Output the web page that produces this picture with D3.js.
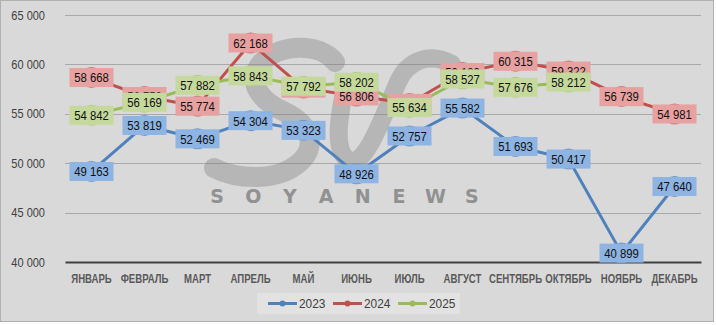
<!DOCTYPE html>
<html><head><meta charset="utf-8">
<script src="https://cdn.jsdelivr.net/npm/d3@7"></script>
<style>
html,body{margin:0;padding:0;background:#fff;}
svg{display:block;}
</style>
</head><body>
<svg id="chart" width="716" height="325"></svg>
<script>
const months = ["ЯНВАРЬ","ФЕВРАЛЬ","МАРТ","АПРЕЛЬ","МАЙ","ИЮНЬ","ИЮЛЬ","АВГУСТ","СЕНТЯБРЬ","ОКТЯБРЬ","НОЯБРЬ","ДЕКАБРЬ"];
const values2023 = [49163,53819,52469,54304,53323,48926,52757,55582,51693,50417,40899,47640];
const values2024 = [58668,56750,55774,62168,57600,56806,56050,59180,60315,59322,56739,54981];
const values2025 = [54842,56169,57882,58843,57792,58202,55634,58527,57676,58212];
const yTicks = [40000,45000,50000,55000,60000,65000];
const seriesNames = ["2023","2024","2025"];

const series = [
  {name: seriesNames[0], values: values2023, line:"#4f81bd", marker:"#6b97cf", box:"#8db4e2"},
  {name: seriesNames[1], values: values2024, line:"#c0504d", marker:"#d77372", box:"#e6a1a0"},
  {name: seriesNames[2], values: values2025, line:"#9bbb59", marker:"#b2cc7a", box:"#c5d99c"}
];

const FONT = "'Liberation Sans',Arial,sans-serif";
const SX = 0.84;
const svg = d3.select("#chart");
const W = 716, H = 325;
const m = {left:65, right:15, top:15, bottom:63};

svg.append("rect").attr("x",0.5).attr("y",0.5).attr("width",W-3).attr("height",H-4)
  .attr("fill","#d9d9d9").attr("stroke","#b0b0b0");

const x = d3.scaleBand().domain(months).range([m.left, W - m.right]).paddingInner(0).paddingOuter(0);
const y = d3.scaleLinear().domain([40000,65000]).range([H - m.bottom, m.top]);

// gridlines
svg.append("g").selectAll("line").data(yTicks.filter(t=>t>40000)).join("line")
  .attr("x1", m.left).attr("x2", W - m.right)
  .attr("y1", d=>Math.round(y(d))+0.5).attr("y2", d=>Math.round(y(d))+0.5)
  .attr("stroke","#a9a9a9").attr("stroke-width",1);

// watermark
const wm = svg.append("g").attr("opacity",0.33);
wm.append("path")
  .attr("d","M335,62 C320,42 280,44 262,62 C244,82 262,102 285,112 C310,124 318,146 300,162 C278,182 238,180 214,168")
  .attr("fill","none").attr("stroke","#707070").attr("stroke-width",20).attr("stroke-linecap","round");
wm.append("path")
  .attr("d","M345,88 C338,120 334,150 348,160 C364,170 382,120 398,82 C408,60 430,52 452,64")
  .attr("fill","none").attr("stroke","#707070").attr("stroke-width",18).attr("stroke-linecap","round");
const wmLetters = "SOYANEWS".split("");
svg.append("g").selectAll("text").data(wmLetters).join("text")
  .attr("x",(d,i)=>217 + i*36.4).attr("y",203)
  .attr("text-anchor","middle")
  .attr("font-family","'DejaVu Sans',sans-serif").attr("font-weight","bold").attr("font-size",19)
  .attr("fill","#858585").attr("opacity",0.85)
  .text(d=>d);

const fmt = d=>d3.format(",")(d).replace(/,/g," ");

// y axis labels
const yAxis = d3.axisLeft(y).tickValues(yTicks).tickSize(0).tickPadding(0).tickFormat(fmt);
const ya = svg.append("g").attr("transform",`translate(${m.left-20},0)`).call(yAxis);
ya.select(".domain").remove();
ya.selectAll("text").attr("font-family",FONT).attr("font-size",12.5).attr("fill","#404040")
  .attr("dy","0.32em").attr("transform","scale(0.88,1)");

// x axis
const xAxis = d3.axisBottom(x).tickSize(0).tickPadding(12);
const xa = svg.append("g").attr("transform",`translate(0,${y(40000)})`).call(xAxis);
xa.select(".domain").attr("stroke","#404040").attr("stroke-width",2.2);
xa.selectAll("text").attr("font-family",FONT).attr("font-size",12).attr("font-weight","bold")
  .attr("fill","#595959").attr("transform","scale(0.8,1)");

const cx = i => x(months[i]) + x.bandwidth()/2;
const line = d3.line().x((d,i)=>cx(i)).y(d=>y(d));

// lines
series.forEach(s=>{
  svg.append("path").datum(s.values).attr("d",line)
    .attr("fill","none").attr("stroke",s.line).attr("stroke-width",3).attr("stroke-linejoin","round");
});
// markers
series.forEach(s=>{
  svg.append("g").selectAll("circle").data(s.values).join("circle")
    .attr("cx",(d,i)=>cx(i)).attr("cy",d=>y(d)).attr("r",10.5)
    .attr("fill",s.marker);
});
// labels
series.forEach(s=>{
  const g = svg.append("g").selectAll("g").data(s.values).join("g")
    .attr("transform",(d,i)=>`translate(${cx(i)},${y(d)})`);
  g.append("rect").attr("x",-22).attr("y",-9.5).attr("width",44).attr("height",19).attr("fill",s.box);
  g.append("text").attr("text-anchor","middle").attr("dy","0.36em")
    .attr("font-family",FONT).attr("font-size",13.5).attr("fill","#111")
    .attr("transform",`scale(${SX},1)`)
    .text(fmt);
});

// legend
const lg = svg.append("g");
lg.append("rect").attr("x",257).attr("y",293).attr("width",203).attr("height",21).attr("fill","#e2e2e2");
const lItems = lg.selectAll("g").data(series).join("g")
  .attr("transform",(d,i)=>`translate(${268 + i*65},303.5)`);
lItems.append("line").attr("x1",0).attr("x2",29).attr("y1",0).attr("y2",0)
  .attr("stroke",d=>d.line).attr("stroke-width",3);
lItems.append("circle").attr("cx",14.5).attr("cy",0).attr("r",3).attr("fill",d=>d.line);
lItems.append("text").attr("x",31/0.88).attr("dy","0.35em").attr("transform","scale(0.88,1)")
  .attr("font-family",FONT).attr("font-size",13.5).attr("fill","#404040").text(d=>d.name);
</script>
</body></html>
